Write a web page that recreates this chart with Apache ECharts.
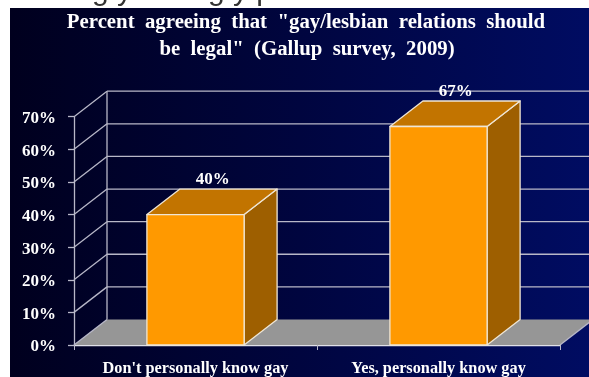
<!DOCTYPE html>
<html><head><meta charset="utf-8">
<style>html,body{margin:0;padding:0;background:#fff}#c{width:589px;height:377px}</style>
<script src="https://cdn.jsdelivr.net/npm/echarts@6/dist/echarts.min.js"></script>
</head><body><div id="c"></div>
<script>
const categories = ["Don't personally know gay", "Yes, personally know gay"];
const values = [40, 67];
const valueLabels = ["40%", "67%"];
const ticks = [0, 10, 20, 30, 40, 50, 60, 70];
const titleLines = ['Percent  agreeing  that  "gay/lesbian  relations  should', 'be  legal"  (Gallup  survey,  2009)'];
const clippedFragments = ['g y', 'g y p'];

const DX = 33, DY = -25.5, SERIF = '"Liberation Serif"';
const LINE = '#b8b8c8', EDGE = '#efe6d6';
const chart = echarts.init(document.getElementById('c'), null, {renderer: 'canvas'});

function frameItem(params, api) {
  const v = api.value(0);
  const g = [];
  const cs = params.coordSys;
  const x0 = cs.x, x1 = cs.x + cs.width;
  const y = api.coord([0, v])[1];
  const ls = {stroke:LINE, lineWidth:1.3};
  if (v === 0) {
    g.push({type:'polygon', shape:{points:[[x0,y],[x0+DX,y+DY],[x1+DX,y+DY],[x1,y]]}, style:{fill:'#969696'}});
    g.push({type:'line', shape:{x1:x1,y1:y,x2:x1+DX,y2:y+DY}, style:ls});
  }
  if (v === ticks[ticks.length-1]) {
    const y0 = api.coord([0, 0])[1];
    g.push({type:'line', shape:{x1:x0+DX,y1:y0+DY,x2:x0+DX,y2:y+DY}, style:ls});
  }
  g.push({type:'line', shape:{x1:x0,y1:y,x2:x0+DX,y2:y+DY}, style:ls});
  if (v !== 0) g.push({type:'line', shape:{x1:x0+DX,y1:y+DY,x2:x1+DX,y2:y+DY}, style:ls});
  return {type:'group', children:g};
}

function barItem(params, api) {
  const c = api.coord([api.value(0), api.value(1)]);
  const base = api.coord([api.value(0), 0]);
  const w = api.size([1, 0])[0] * 0.4;
  const x0 = c[0] - w/2, x1 = c[0] + w/2, t = c[1], b = base[1];
  const st = {stroke: EDGE, lineWidth: 1.3, lineJoin:'round'};
  return {type:'group', children:[
    {type:'polygon', shape:{points:[[x1,t],[x1+DX,t+DY],[x1+DX,b+DY],[x1,b]]}, style:{fill:'#9e5f00', ...st}},
    {type:'polygon', shape:{points:[[x0,t],[x0+DX,t+DY],[x1+DX,t+DY],[x1,t]]}, style:{fill:'#c27400', ...st}},
    {type:'rect', shape:{x:x0,y:t,width:w,height:b-t}, style:{fill:'#ff9900', ...st}},
    {type:'text', x:c[0]+DX/2+0.7, y:t+DY-1, style:{text:valueLabels[params.dataIndex], fill:'#fff', font:'bold 17px '+SERIF, textAlign:'center', textVerticalAlign:'bottom'}}
  ]};
}

chart.setOption({
  animation:false,
  backgroundColor:'#ffffff',
  graphic:[
    {type:'text', z:-20, silent:true, x:92, y:-23, style:{text:clippedFragments[0], fill:'#333', font:'30px "Liberation Sans"'}},
    {type:'text', z:-20, silent:true, x:208, y:-23, style:{text:clippedFragments[1], fill:'#333', font:'30px "Liberation Sans"'}},
    {type:'rect', z:-10, silent:true, shape:{x:10,y:8,width:579,height:369},
     style:{fill:{type:'linear',x:0,y:0,x2:1,y2:0,colorStops:[{offset:0,color:'#00001e'},{offset:0.5,color:'#00053f'},{offset:1,color:'#000c62'}]}}},
    {type:'text', z:5, x:306, y:23, style:{text:titleLines[0], fill:'#fff', font:'bold 20.8px '+SERIF, textAlign:'center', textVerticalAlign:'middle'}},
    {type:'text', z:5, x:307, y:50, style:{text:titleLines[1], fill:'#fff', font:'bold 20.8px '+SERIF, textAlign:'center', textVerticalAlign:'middle'}}
  ],
  grid:{left:74, right:29, top:116.7, bottom:31.7},
  xAxis:{type:'category', data:categories,
    axisLine:{lineStyle:{color:'#e0e0e8',width:1.3}},
    axisTick:{show:true,length:5,lineStyle:{color:LINE}},
    axisLabel:{color:'#fff',fontFamily:SERIF,fontWeight:'bold',fontSize:16.3,margin:16}},
  yAxis:{type:'value', min:0, max:70, interval:10,
    axisLine:{show:true,lineStyle:{color:LINE,width:1.3}},
    axisTick:{show:true,length:6,lineStyle:{color:LINE,width:1.3}},
    splitLine:{show:false},
    axisLabel:{color:'#fff',fontFamily:SERIF,fontWeight:'bold',fontSize:17,margin:18,verticalAlign:'top',lineHeight:4,formatter:'{value}%'}},
  series:[
    {type:'custom', clip:false, z:1, data:ticks.map(t=>[t]), encode:{y:0}, renderItem:frameItem, silent:true},
    {type:'custom', clip:false, z:3, data:values.map((v,i)=>[i,v]), encode:{x:0,y:1}, renderItem:barItem, silent:true}
  ]
});
</script></body></html>
